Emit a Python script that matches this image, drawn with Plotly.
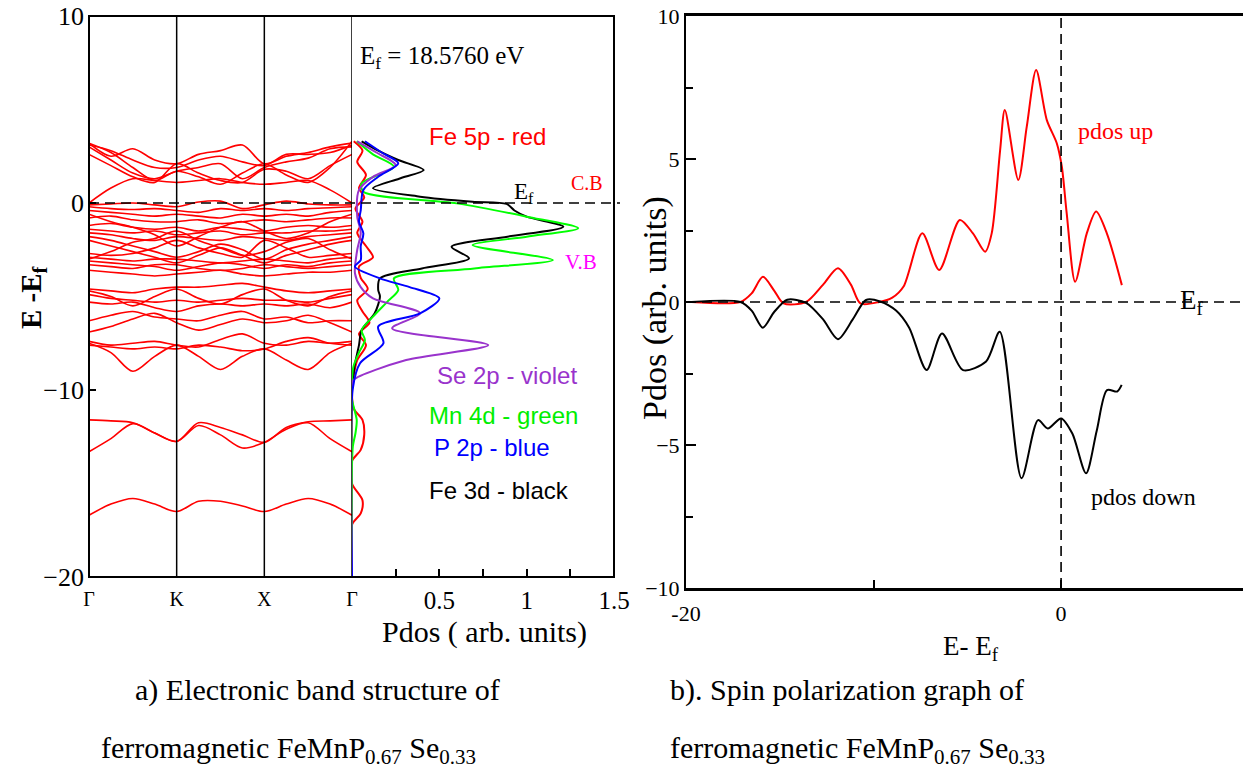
import plotly.graph_objects as go

W, H = 1243, 774

# ---------------- data: band structure (E - Ef, eV) at k-path points ----------------
k_points = [0, 0.25, 0.5, 0.75, 1, 1.25, 1.5, 1.75, 2, 2.25, 2.5, 2.75, 3]
k_labels = ["Γ", "K", "X", "Γ"]

bands_conduction = [
    [3.2, 2.5, 2.9, 2.3, 2.1, 2.6, 2.8, 3.1, 2.1, 2.5, 2.7, 3.0, 3.2],
    [3.1, 2.8, 2.3, 1.9, 1.9, 2.3, 2.5, 2.2, 2.0, 2.6, 2.6, 2.7, 3.1],
    [3.0, 2.3, 1.6, 1.3, 1.7, 1.9, 2.1, 1.3, 1.9, 2.2, 2.4, 2.9, 3.0],
    [2.6, 2.0, 1.4, 1.1, 2.1, 1.6, 1.2, 1.1, 1.8, 1.7, 1.3, 2.0, 2.6],
    [3.2, 2.7, 1.9, 1.2, 1.7, 1.4, 1.0, 1.6, 2.1, 1.5, 1.1, 1.9, 3.3],
    [0.0, 0.8, 1.3, 1.2, 1.1, 1.2, 1.3, 1.1, 1.0, 1.1, 1.2, 0.7, 0.0],
]
bands_valence_upper = [
    [-0.1, -0.05, 0.0, -0.1, -0.2, 0.05, 0.1, -0.3, -0.1, 0.1, -0.05, -0.1, -0.1],
    [-0.2, -0.3, -0.35, -0.3, -0.4, -0.5, -0.3, -0.4, -0.3, -0.4, -0.3, -0.25, -0.2],
    [-0.4, -0.5, -0.6, -0.7, -0.6, -0.7, -0.8, -0.6, -0.7, -0.6, -0.7, -0.5, -0.4],
    [-0.8, -0.7, -0.9, -1.0, -1.0, -0.9, -1.1, -1.0, -0.9, -1.0, -0.9, -0.8, -0.8],
    [-1.2, -1.1, -1.3, -1.4, -1.3, -1.5, -1.3, -1.4, -1.5, -1.3, -1.2, -1.3, -1.2],
    [-1.4, -1.5, -1.6, -1.5, -1.7, -1.6, -1.5, -1.7, -1.6, -1.6, -1.5, -1.5, -1.4],
    [-1.6, -1.7, -1.9, -2.0, -1.8, -1.9, -2.0, -1.8, -1.9, -2.0, -1.8, -1.7, -1.6],
    [-1.8, -2.0, -2.3, -2.6, -2.9, -2.6, -2.2, -2.5, -3.0, -2.5, -2.2, -2.0, -1.8],
    [-2.0, -2.3, -2.6, -2.9, -3.2, -2.8, -2.4, -2.8, -3.2, -2.8, -2.5, -2.2, -2.0],
    [-2.7, -2.8, -2.7, -2.4, -2.0, -2.4, -2.7, -2.9, -2.0, -2.4, -2.9, -2.8, -2.7],
    [-2.9, -3.0, -3.1, -3.0, -3.0, -3.1, -3.2, -3.1, -3.0, -3.1, -3.2, -3.0, -2.9],
    [-3.1, -3.2, -3.3, -3.4, -3.6, -3.4, -3.2, -3.3, -3.5, -3.3, -3.4, -3.2, -3.1],
    [-3.3, -3.4, -3.5, -3.3, -3.3, -3.5, -3.6, -3.5, -3.3, -3.4, -3.5, -3.4, -3.3],
    [-3.6, -3.7, -3.8, -3.9, -3.8, -3.7, -3.6, -3.8, -3.9, -3.8, -3.7, -3.7, -3.6],
    [-0.6, -1.0, -1.3, -1.7, -2.3, -1.8, -1.3, -1.0, -1.5, -1.9, -1.6, -1.0, -0.6],
    [-3.0, -2.6, -2.1, -1.9, -1.5, -2.0, -2.4, -2.8, -2.6, -2.1, -1.9, -2.5, -3.0],
]
bands_valence_middle = [
    [-4.6, -4.7, -4.8, -4.6, -4.5, -4.5, -4.4, -4.3, -4.5, -4.7, -4.8, -4.7, -4.6],
    [-4.7, -5.0, -5.5, -5.0, -4.6, -5.1, -5.4, -4.9, -4.6, -5.2, -5.5, -5.0, -4.7],
    [-4.9, -5.1, -5.2, -5.3, -5.2, -5.3, -5.2, -5.1, -5.2, -5.2, -5.3, -5.1, -4.9],
    [-5.3, -5.4, -5.3, -5.6, -5.8, -5.5, -5.4, -5.5, -5.4, -5.5, -5.4, -5.6, -5.3],
    [-6.3, -6.0, -5.8, -6.1, -6.2, -6.3, -6.0, -5.8, -6.2, -6.1, -6.4, -6.3, -6.3],
    [-6.9, -6.6, -6.2, -5.9, -6.4, -6.8, -6.5, -6.2, -6.4, -6.3, -6.0, -6.4, -6.9],
    [-7.4, -7.6, -7.5, -7.4, -7.6, -7.7, -7.3, -7.0, -7.5, -7.6, -7.4, -7.5, -7.4],
    [-7.5, -8.0, -9.0, -8.2, -7.6, -8.2, -8.9, -8.2, -7.8, -8.4, -8.9, -8.0, -7.5],
    [-7.6, -7.7, -7.8, -7.7, -7.8, -7.6, -7.7, -7.9, -7.8, -7.4, -7.2, -7.5, -7.6],
]
bands_valence_lower = [
    [-11.6, -11.65, -11.75, -12.3, -12.75, -11.75, -12.0, -12.4, -12.8, -12.0, -11.7, -11.65, -11.6],
    [-13.3, -12.6, -11.8, -12.3, -12.75, -11.9, -12.4, -13.1, -12.8, -12.1, -11.75, -12.6, -13.3],
]
bands_deep = [
    [-16.7, -16.1, -15.8, -16.1, -16.5, -15.95, -15.95, -16.2, -16.5, -16.1, -15.8, -16.1, -16.7],
]

# ---------------- data: projected DOS (panel a) ----------------
fe3d_energy = [3.3, 2.8, 2.3, 1.76, 1.3, 0.79, 0.34, 0.07, -0.05, -0.4, -0.73, -1.27, -1.8, -2.34,
               -2.96, -3.5, -4.03, -4.65, -5.0, -5.9, -6.8, -7.6, -8.6, -9.5, -10.0, -20.0]
fe3d_pdos = [0.055, 0.15, 0.265, 0.41, 0.27, 0.12, 0.39, 0.69, 0.885, 0.93, 1.0, 1.21, 0.89, 0.57,
             0.67, 0.4, 0.16, 0.15, 0.16, 0.13, 0.055, 0.04, 0.017, 0.005, 0.0, 0.0]

mn4d_energy = [3.3, 2.6, 1.94, 1.05, 0.6, -0.02, -0.73, -1.35, -1.8, -2.25, -3.05, -3.5, -4.03,
               -4.65, -5.3, -6.08, -6.8, -7.33, -8.0, -8.75, -9.5, -10.5, -11.6, -12.3, -13.0, -14.0, -20.0]
mn4d_pdos = [0.027, 0.12, 0.24, 0.055, 0.065, 0.6, 1.0, 1.295, 1.0, 0.69, 1.15, 0.7, 0.24,
             0.265, 0.2, 0.12, 0.055, 0.074, 0.04, 0.008, 0.0, 0.0, 0.027, 0.02, 0.005, 0.0, 0.0]

p2p_energy = [3.3, 2.7, 2.12, 1.4, 0.7, -0.4, -1.0, -1.62, -2.3, -3.05, -3.4, -4.03, -4.5, -5.1,
              -5.9, -6.6, -7.5, -8.57, -9.9, -20.0]
p2p_pdos = [0.074, 0.17, 0.265, 0.15, 0.065, 0.05, 0.04, 0.065, 0.05, 0.05, 0.017, 0.16, 0.33, 0.5,
            0.39, 0.15, 0.18, 0.046, 0.005, 0.0]

se2p_energy = [3.3, 2.7, 2.03, 1.4, 0.7, -0.73, -1.6, -2.5, -3.76, -4.5, -5.1, -5.9, -6.7, -7.6,
               -8.4, -9.47, -9.8, -20.0]
se2p_pdos = [0.03, 0.14, 0.25, 0.12, 0.04, 0.03, 0.05, 0.03, 0.017, 0.05, 0.12, 0.39, 0.23, 0.78,
             0.31, 0.008, 0.0, 0.0]

fe5p_energy = [3.3, 2.8, 2.2, 1.5, 0.8, 0.3, -0.3, -1.0, -1.6, -2.3, -2.9, -3.4, -4.0, -4.6, -5.2,
               -5.8, -6.4, -7.0, -7.6, -8.4, -9.2, -10.0, -11.0, -11.6, -12.4, -13.2, -13.8, -15.0,
               -15.9, -16.6, -17.2, -20.0]
fe5p_pdos = [0.01, 0.06, 0.03, 0.08, 0.04, 0.07, 0.02, 0.06, 0.03, 0.08, 0.12, 0.04, 0.05, 0.09, 0.03,
             0.06, 0.1, 0.04, 0.08, 0.03, 0.01, 0.0, 0.01, 0.06, 0.07, 0.05, 0.0, 0.0,
             0.06, 0.05, 0.0, 0.0]

# ---------------- data: spin-polarised PDOS (panel b) ----------------
up_energy = [-19.7, -17.1, -16.5, -15.9, -15.3, -14.8, -13.6, -12.7, -11.9, -11.2, -10.7, -9.7, -9.0,
             -8.4, -7.4, -6.5, -5.4, -4.7, -4.05, -3.7, -3.25, -3.0, -2.28, -1.83, -1.33, -0.76,
             -0.23, 0.04, 0.3, 0.75, 1.37, 1.87, 2.44, 3.24]
up_pdos = [0, 0, 0.3, 0.88, 0.4, -0.05, 0, 0.6, 1.18, 0.6, -0.05, 0, 0.15,
           0.54, 2.4, 1.12, 2.87, 2.4, 1.76, 2.4, 5.31, 6.71, 4.27, 6.13, 8.11, 6.36,
           5.55, 4.73, 3.1, 0.71, 2.4, 3.16, 2.4, 0.59]

down_energy = [-19.7, -17.1, -16.5, -15.9, -15.3, -14.6, -13.6, -12.7, -11.9, -11.1, -10.4, -9.65,
               -8.8, -8.1, -7.17, -6.35, -5.23, -4.0, -3.27, -2.11, -1.23, -0.71, 0.0, 0.6, 1.33,
               1.9, 2.45, 2.99, 3.23]
down_pdos = [0, 0, -0.3, -0.9, -0.35, 0.08, -0.03, -0.6, -1.3, -0.6, 0.07, 0.02,
             -0.3, -0.9, -2.38, -1.1, -2.38, -2.08, -1.04, -6.16, -4.13, -4.42, -4.07, -4.6, -5.99,
             -4.5, -3.08, -3.13, -2.9]

# ---------------- helpers ----------------
def px(x):
    return x / W

def py(y):
    return 1 - y / H

SERIF = "Liberation Serif"
SANS = "Liberation Sans"

fig = go.Figure()

# band structure traces
for group in (bands_conduction, bands_valence_upper, bands_valence_middle,
              bands_valence_lower, bands_deep):
    for band in group:
        fig.add_trace(go.Scatter(x=k_points, y=band, mode="lines",
                                 line=dict(color="#ff0000", width=1.6, shape="spline", smoothing=0.9),
                                 xaxis="x", yaxis="y", showlegend=False, hoverinfo="skip"))

# PDOS traces (panel a)
for e, d, c in ((fe5p_energy, fe5p_pdos, "#ff0000"),
                (fe3d_energy, fe3d_pdos, "#000000"),
                (mn4d_energy, mn4d_pdos, "#00ff00"),
                (se2p_energy, se2p_pdos, "#9933cc"),
                (p2p_energy, p2p_pdos, "#0000ff")):
    fig.add_trace(go.Scatter(x=d, y=e, mode="lines",
                             line=dict(color=c, width=2, shape="spline", smoothing=0.8),
                             xaxis="x2", yaxis="y", showlegend=False, hoverinfo="skip"))

# spin PDOS traces (panel b)
fig.add_trace(go.Scatter(x=up_energy, y=up_pdos, mode="lines",
                         line=dict(color="#ff0000", width=2, shape="spline", smoothing=0.8),
                         xaxis="x3", yaxis="y3", showlegend=False, hoverinfo="skip"))
fig.add_trace(go.Scatter(x=down_energy, y=down_pdos, mode="lines",
                         line=dict(color="#000000", width=2, shape="spline", smoothing=0.8),
                         xaxis="x3", yaxis="y3", showlegend=False, hoverinfo="skip"))

fig.update_layout(
    width=W, height=H,
    margin=dict(l=0, r=0, t=0, b=0, pad=0),
    autosize=False,
    paper_bgcolor="white", plot_bgcolor="white",
    xaxis=dict(domain=[px(89), px(352)], range=[0, 3], anchor="y", automargin=False,
               tickmode="array", tickvals=[0, 1, 2, 3], ticktext=k_labels,
               ticks="", showgrid=False, zeroline=False, showline=False,
               ticklabelstandoff=8,
               tickfont=dict(family=SERIF, size=20, color="black")),
    yaxis=dict(domain=[py(577), py(16)], range=[-20, 10], anchor="x", automargin=False,
               tickmode="array", tickvals=[-20, -10, 0, 10],
               ticks="inside", ticklen=7, tickwidth=1.5, tickcolor="black",
               ticklabelstandoff=4,
               showgrid=False, zeroline=False, showline=False,
               tickfont=dict(family=SERIF, size=26, color="black")),
    xaxis2=dict(domain=[px(352), px(614)], range=[0, 1.5], anchor="y", automargin=False,
                tickmode="array", tickvals=[0, 0.5, 1, 1.5], ticktext=["", "0.5", "1", "1.5"],
                ticks="inside", ticklen=8, tickwidth=1.5, tickcolor="black",
                minor=dict(tickmode="array", tickvals=[0.25, 0.75, 1.25], ticks="inside",
                           ticklen=8, tickwidth=1.5, tickcolor="black"),
                ticklabelstandoff=6,
                showgrid=False, zeroline=False, showline=False,
                tickfont=dict(family=SERIF, size=25, color="black")),
    xaxis3=dict(domain=[px(686), 1.0], range=[-20, 9.7], anchor="y3", automargin=False,
                tickmode="array", tickvals=[-20, -10, 0], ticktext=["-20", "", "0"],
                ticks="inside", ticklen=8, tickwidth=1.5, tickcolor="black",
                showgrid=False, zeroline=False, showline=True, linewidth=2.5,
                ticklabelstandoff=4,
                linecolor="black", mirror=True,
                tickfont=dict(family=SERIF, size=22, color="black")),
    yaxis3=dict(domain=[py(588), py(16)], range=[-10, 10], anchor="x3", automargin=False,
                tickmode="array", tickvals=[-10, -5, 0, 5, 10],
                ticks="inside", ticklen=10, tickwidth=1.5, tickcolor="black",
                minor=dict(tickmode="array", tickvals=[-7.5, -2.5, 2.5, 7.5], ticks="inside",
                           ticklen=7, tickwidth=1.5, tickcolor="black"),
                showgrid=False, zeroline=False, showline=True, linewidth=2,
                linecolor="black",
                tickfont=dict(family=SERIF, size=22, color="black")),
)

shapes = [
    # frame of panel a
    dict(type="rect", xref="paper", yref="paper", x0=px(89), x1=px(614), y0=py(577), y1=py(16),
         line=dict(color="black", width=2)),
    # high-symmetry vertical lines
    dict(type="line", xref="x", yref="y", x0=1, x1=1, y0=-20, y1=10, line=dict(color="black", width=1.5)),
    dict(type="line", xref="x", yref="y", x0=2, x1=2, y0=-20, y1=10, line=dict(color="black", width=1.5)),
    dict(type="line", xref="x", yref="y", x0=3, x1=3, y0=-20, y1=10, line=dict(color="black", width=1.5)),
    # Fermi level, panel a
    dict(type="line", xref="paper", yref="y", x0=px(89), x1=px(620), y0=0, y1=0,
         line=dict(color="black", width=1.6, dash="10px,6px")),
    # Fermi level, panel b
    dict(type="line", xref="x3", yref="y3", x0=-20, x1=9.7, y0=0, y1=0,
         line=dict(color="black", width=1.6, dash="10px,6px")),
    dict(type="line", xref="x3", yref="y3", x0=0, x1=0, y0=-10, y1=10,
         line=dict(color="black", width=1.6, dash="10px,6px")),
]
fig.update_layout(shapes=shapes)

def ann(text, x, y, size=22, family=SERIF, color="black", xanchor="left", yanchor="middle", angle=0):
    return dict(text=text, x=px(x), y=py(y), xref="paper", yref="paper", showarrow=False,
                xanchor=xanchor, yanchor=yanchor, textangle=angle,
                font=dict(family=family, size=size, color=color))

annotations = [
    ann("<b>E -E<sub>f</sub></b>", 33, 298, size=29, xanchor="center", angle=-90),
    ann("E<sub>f</sub> = 18.5760 eV", 358, 57, size=25),
    ann("Fe 5p - red", 427, 137, size=24, family=SANS, color="#ff0000"),
    ann("C.B", 569, 183, size=20, color="#ff0000"),
    ann("E<sub>f</sub>", 512, 193, size=23),
    ann("V.B", 563, 262, size=21, color="#ff00ff"),
    ann("Se 2p - violet", 435, 375, size=24, family=SANS, color="#9933cc"),
    ann("Mn 4d - green", 427, 415, size=24, family=SANS, color="#00ee00"),
    ann("P 2p - blue", 432, 447, size=24, family=SANS, color="#0000ff"),
    ann("Fe 3d - black", 427, 490, size=24, family=SANS, color="black"),
    ann("Pdos ( arb. units)", 484, 632, size=30, xanchor="center"),
    ann("Pdos (arb. units)", 655, 308, size=34, xanchor="center", angle=-90),
    ann("E- E<sub>f</sub>", 971, 648, size=27, xanchor="center"),
    ann("pdos up", 1076, 131, size=24, color="#ff0000"),
    ann("pdos down", 1089, 497, size=24),
    ann("E<sub>f</sub>", 1178, 302, size=27),
    ann("a) Electronic band structure of", 133, 690, size=30),
    ann("ferromagnetic FeMnP<sub>0.67</sub> Se<sub>0.33</sub>", 99, 750, size=30),
    ann("b). Spin polarization graph of", 668, 690, size=30),
    ann("ferromagnetic FeMnP<sub>0.67</sub> Se<sub>0.33</sub>", 668, 750, size=30),
]
fig.update_layout(annotations=annotations)

fig.write_html("out.html")
